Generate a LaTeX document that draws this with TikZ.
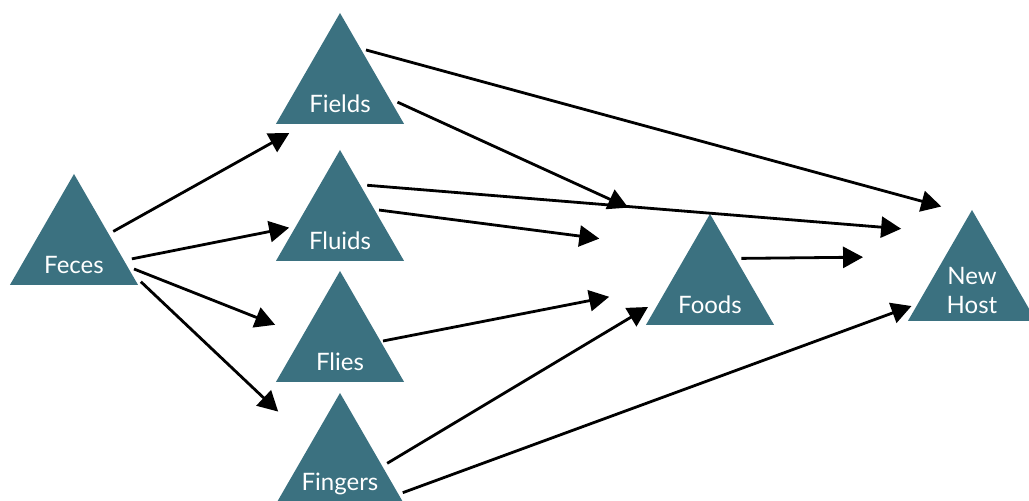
\documentclass[tikz,border=0pt]{standalone}
\usepackage{fontspec}
\setmainfont{Lato}
\usetikzlibrary{shapes.geometric,arrows.meta}
\definecolor{tealtri}{RGB}{59,113,128}
\begin{document}
\begin{tikzpicture}[x=0.5pt, y=-0.5pt,
    every node/.style={font=\fontsize{12}{14.5}\selectfont},
    tri/.style={regular polygon, regular polygon sides=3, fill=tealtri, minimum size=74pt, inner sep=0pt, outer sep=0pt},
    lbl/.style={text=white, align=center, yshift=-8.5pt},
    arr/.style={-{Triangle[length=10pt, width=10.5pt]}, line width=1.4pt}]
    \useasboundingbox (0,0) rectangle (1029,501);
    % sources and routes
    \node[tri, label={[lbl]center:Feces}] (feces) at (74,248) {};
    \node[tri, label={[lbl]center:Fields}] (fields) at (340,87) {};
    \node[tri, label={[lbl]center:Fluids}] (fluids) at (340,224) {};
    \node[tri, label={[lbl]center:Flies}] (flies) at (340,345) {};
    \node[tri, label={[lbl]center:Fingers}] (fingers) at (340,467) {};
    \node[tri, label={[lbl]center:Foods}] (foods) at (710,288) {};
    \node[tri, label={[lbl, yshift=5pt]center:New\\Host}] (newhost) at (972,284) {};
    % from feces
    \draw[arr, shorten <=2.65pt, shorten >=9.3pt] (feces.22.8) -- (fields.227.7);
    \draw[arr, shorten <=4.05pt, shorten >=3.45pt] (feces.-14.1) -- (fluids.183.5);
    \draw[arr, shorten <=3.6pt, shorten >=14.8pt] (feces.-19) -- (flies.166.4);
    \draw[arr, shorten <=7.05pt, shorten >=22.75pt] (feces.-23.2) -- (fingers.140.7);
    % to foods and new host
    \draw[arr, shorten <=2.85pt, shorten >=14.65pt] (fields.62) -- (newhost.92.2);
    \draw[arr, shorten <=4.5pt, shorten >=37.15pt] (fields.-13.8) -- (foods.106.3);
    \draw[arr, shorten <=3.6pt, shorten >=28.75pt] (fluids.63.3) -- (newhost.105.2);
    \draw[arr, shorten <=2.4pt, shorten >=45.25pt] (fluids.23.1) -- (foods.119.8);
    \draw[arr, shorten <=1.2pt, shorten >=30.45pt] (flies.5) -- (foods.176.4);
    \draw[arr, shorten <=2.8pt, shorten >=41.1pt] (foods.49.7) -- (newhost.134.1);
    \draw[arr, shorten <=2.85pt, shorten >=7.4pt] (fingers.1.5) -- (foods.193);
    \draw[arr, shorten <=2.3pt, shorten >=3.4pt] (fingers.-25.2) -- (newhost.200.7);
\end{tikzpicture}
\end{document}
